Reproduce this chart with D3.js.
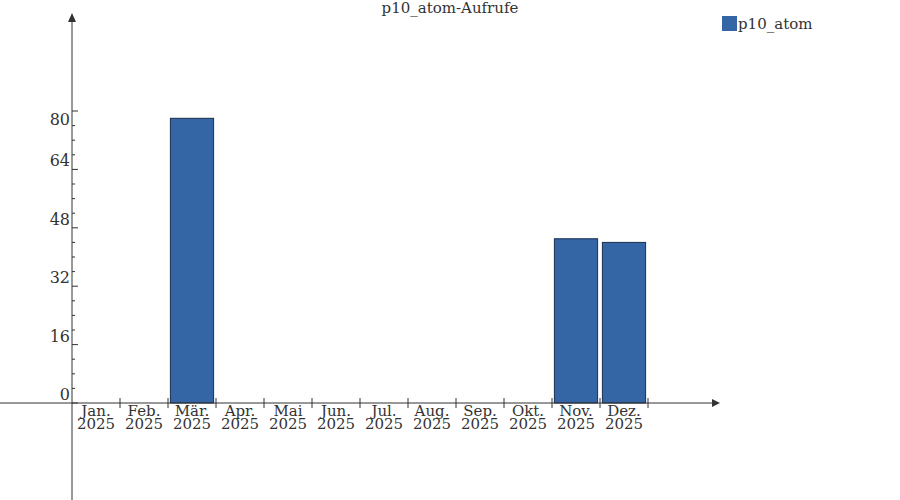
<!DOCTYPE html>
<html><head><meta charset="utf-8">
<script src="https://cdn.jsdelivr.net/npm/d3@7"></script>
<style>body{margin:0;background:#fff}text{font-family:"DejaVu Serif",serif;fill:#333}</style>
</head><body><svg id="c" width="900" height="500"></svg>
<script>
const months=["Jan.","Feb.","Mär.","Apr.","Mai","Jun.","Jul.","Aug.","Sep.","Okt.","Nov.","Dez."];
const years=["2025","2025","2025","2025","2025","2025","2025","2025","2025","2025","2025","2025"];
const values=[0,0,78,0,0,0,0,0,0,0,45,44];
const yTicks=[0,16,32,48,64,80];
const seriesName="p10_atom";
const svg=d3.select("#c");
const x=d3.scaleBand().domain(months).range([72,648]).paddingInner(0.1).paddingOuter(0.05);
const xb=d3.scaleBand().domain(months).range([72,648]);
const y=d3.scaleLinear().domain([0,80]).range([403,111]);
const col="#3465a4",ax="#333";
svg.selectAll("rect.b").data(values).join("rect").attr("class","b")
 .attr("x",(d,i)=>x(months[i])).attr("width",x.bandwidth())
 .attr("y",d=>y(d)).attr("height",d=>y(0)-y(d))
 .attr("fill",col).attr("stroke","#1b2f4d").attr("stroke-width",1);
svg.append("line").attr("x1",0).attr("x2",714).attr("y1",403).attr("y2",403).attr("stroke",ax);
svg.append("path").attr("d","M720,403 L712,399 L712,407Z").attr("fill",ax);
svg.append("line").attr("x1",72).attr("x2",72).attr("y1",20).attr("y2",500).attr("stroke",ax);
svg.append("path").attr("d","M72,13 L68,22 L76,22Z").attr("fill",ax);
months.forEach((m,i)=>{const b=xb(m);
 svg.append("line").attr("x1",b+xb.bandwidth()).attr("x2",b+xb.bandwidth()).attr("y1",398).attr("y2",408).attr("stroke",ax);
 svg.append("text").attr("x",b+xb.bandwidth()/2).attr("y",416).attr("text-anchor","middle").attr("font-size",15).text(m);
 svg.append("text").attr("x",b+xb.bandwidth()/2).attr("y",429).attr("text-anchor","middle").attr("font-size",15).text(years[i]);
});
d3.range(0,81,4).forEach(v=>{const major=v%16===0;
 svg.append("line").attr("x1",72).attr("x2",major?78:75).attr("y1",y(v)).attr("y2",y(v)).attr("stroke",ax);});
yTicks.forEach(v=>svg.append("text").attr("x",70).attr("y",v===80?y(v)+14:y(v)-3).attr("text-anchor","end").attr("font-size",16).text(v));
svg.append("text").attr("x",450).attr("y",13).attr("text-anchor","middle").attr("font-size",15).text(seriesName+"-Aufrufe");
svg.append("rect").attr("x",722).attr("y",16).attr("width",15).attr("height",15).attr("fill",col);
svg.append("text").attr("x",738).attr("y",29).attr("font-size",15).text(seriesName);
</script></body></html>
